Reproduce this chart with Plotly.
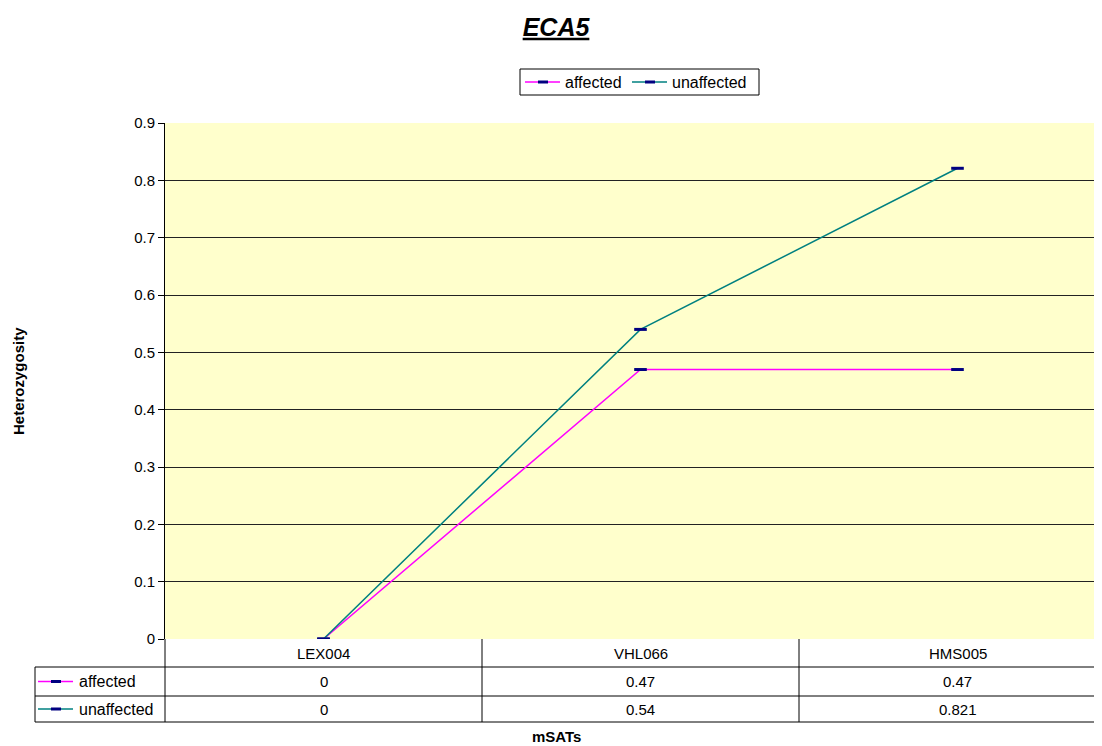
import plotly.graph_objects as go

categories = ["LEX004", "VHL066", "HMS005"]
affected = [0, 0.47, 0.47]
unaffected = [0, 0.54, 0.821]
series = [("affected", affected, "#FF00FF"), ("unaffected", unaffected, "#008080")]

FONT = "Arial, Liberation Sans, sans-serif"
OFF = 8  # page body margin
W, H = 1102, 746 - OFF
L, T, B = 165 - OFF, 123 - OFF, H - (639 - OFF)
PW, PH = W - L, H - T - B
CAT_W = 317  # pixel width per category


def px_x(px):
    # page pixel -> paper x
    return (px - OFF - L) / PW


def px_y(py):
    # page pixel -> paper y
    return (639 - py) / PH


fig = go.Figure()
for name, vals, color in series:
    fig.add_trace(go.Scatter(
        x=list(range(len(categories))), y=vals, name=name, mode="lines+markers",
        line=dict(color=color, width=1.5),
        marker=dict(symbol="line-ew", size=9, color="#000080",
                    line=dict(color="#000080", width=3)),
    ))

shapes = []
annotations = []


def key(x0, cy, color):
    shapes.append(dict(type="line", xref="paper", yref="paper", x0=px_x(x0), x1=px_x(x0 + 35),
                       y0=px_y(cy), y1=px_y(cy), line=dict(color=color, width=1.5)))
    shapes.append(dict(type="rect", xref="paper", yref="paper", x0=px_x(x0 + 13), x1=px_x(x0 + 23),
                       y0=px_y(cy + 1.5), y1=px_y(cy - 1.5), fillcolor="#000080",
                       line=dict(width=0)))


# data table under the plot
row_y = [667, 696, 722]
for py in row_y:
    shapes.append(dict(type="line", xref="paper", yref="paper", x0=px_x(35), x1=1,
                       y0=px_y(py), y1=px_y(py), line=dict(color="black", width=1)))
shapes.append(dict(type="line", xref="paper", yref="paper", x0=px_x(35), x1=px_x(35),
                   y0=px_y(667), y1=px_y(722), line=dict(color="black", width=1)))
shapes.append(dict(type="line", xref="paper", yref="paper", x0=0, x1=0,
                   y0=0, y1=px_y(722), line=dict(color="black", width=1)))
for i in range(1, len(categories)):
    shapes.append(dict(type="line", xref="x", yref="paper", x0=i - 0.5, x1=i - 0.5,
                       y0=0, y1=px_y(722), line=dict(color="black", width=1)))

for i, c in enumerate(categories):
    annotations.append(dict(x=i, y=px_y(653), xref="x", yref="paper", text=c,
                            yanchor="middle", showarrow=False, font=dict(size=15)))
for r, (name, vals, color) in enumerate(series):
    cy = (row_y[r] + row_y[r + 1]) / 2
    key(38, cy, color)
    annotations.append(dict(x=px_x(77), y=px_y(cy), xref="paper", yref="paper", text=name,
                            showarrow=False, xanchor="left", yanchor="middle",
                            font=dict(size=16)))
    for i, v in enumerate(vals):
        annotations.append(dict(x=i, y=px_y(cy), xref="x", yref="paper", text=str(v),
                                showarrow=False, yanchor="middle", font=dict(size=15)))

# legend box at the top
shapes.append(dict(type="rect", xref="paper", yref="paper", x0=px_x(520), x1=px_x(759),
                   y0=px_y(95), y1=px_y(69), line=dict(color="black", width=1),
                   fillcolor="white"))
for (name, vals, color), kx in zip(series, [525, 632]):
    key(kx, 82, color)
    annotations.append(dict(x=px_x(kx + 38), y=px_y(82), xref="paper", yref="paper",
                            text=name, showarrow=False, xanchor="left", yanchor="middle",
                            font=dict(size=16)))

# axis titles
annotations.append(dict(x=px_x(556), y=px_y(736), xref="paper", yref="paper",
                        text="<b>mSATs</b>", showarrow=False, yanchor="middle",
                        font=dict(size=15)))
annotations.append(dict(x=px_x(18), y=px_y(381), xref="paper", yref="paper",
                        text="<b>Heterozygosity</b>", showarrow=False, textangle=-90,
                        xanchor="center", yanchor="middle", font=dict(size=15)))

fig.update_layout(
    width=W, height=H,
    margin=dict(l=L, r=0, t=T, b=B),
    paper_bgcolor="white", plot_bgcolor="#FFFFCC",
    font=dict(family=FONT, size=15, color="black"),
    title=dict(text="<b><i><u>ECA5</u></i></b>", x=(556 - OFF) / W, xanchor="center",
               y=1 - (27 - OFF) / H, yanchor="middle", font=dict(size=25)),
    showlegend=False,
    shapes=shapes, annotations=annotations,
)
fig.update_xaxes(range=[-0.5, -0.5 + PW / CAT_W], showticklabels=False, showgrid=False,
                 zeroline=False, showline=False, fixedrange=True)
fig.update_yaxes(range=[0, 0.9], dtick=0.1, showgrid=True,
                 gridcolor="#222222", gridwidth=1, zeroline=False,
                 showline=True, linecolor="black", linewidth=1,
                 ticks="outside", ticklen=6, tickcolor="black",
                 tickfont=dict(size=15))

fig.write_html("out.html")
